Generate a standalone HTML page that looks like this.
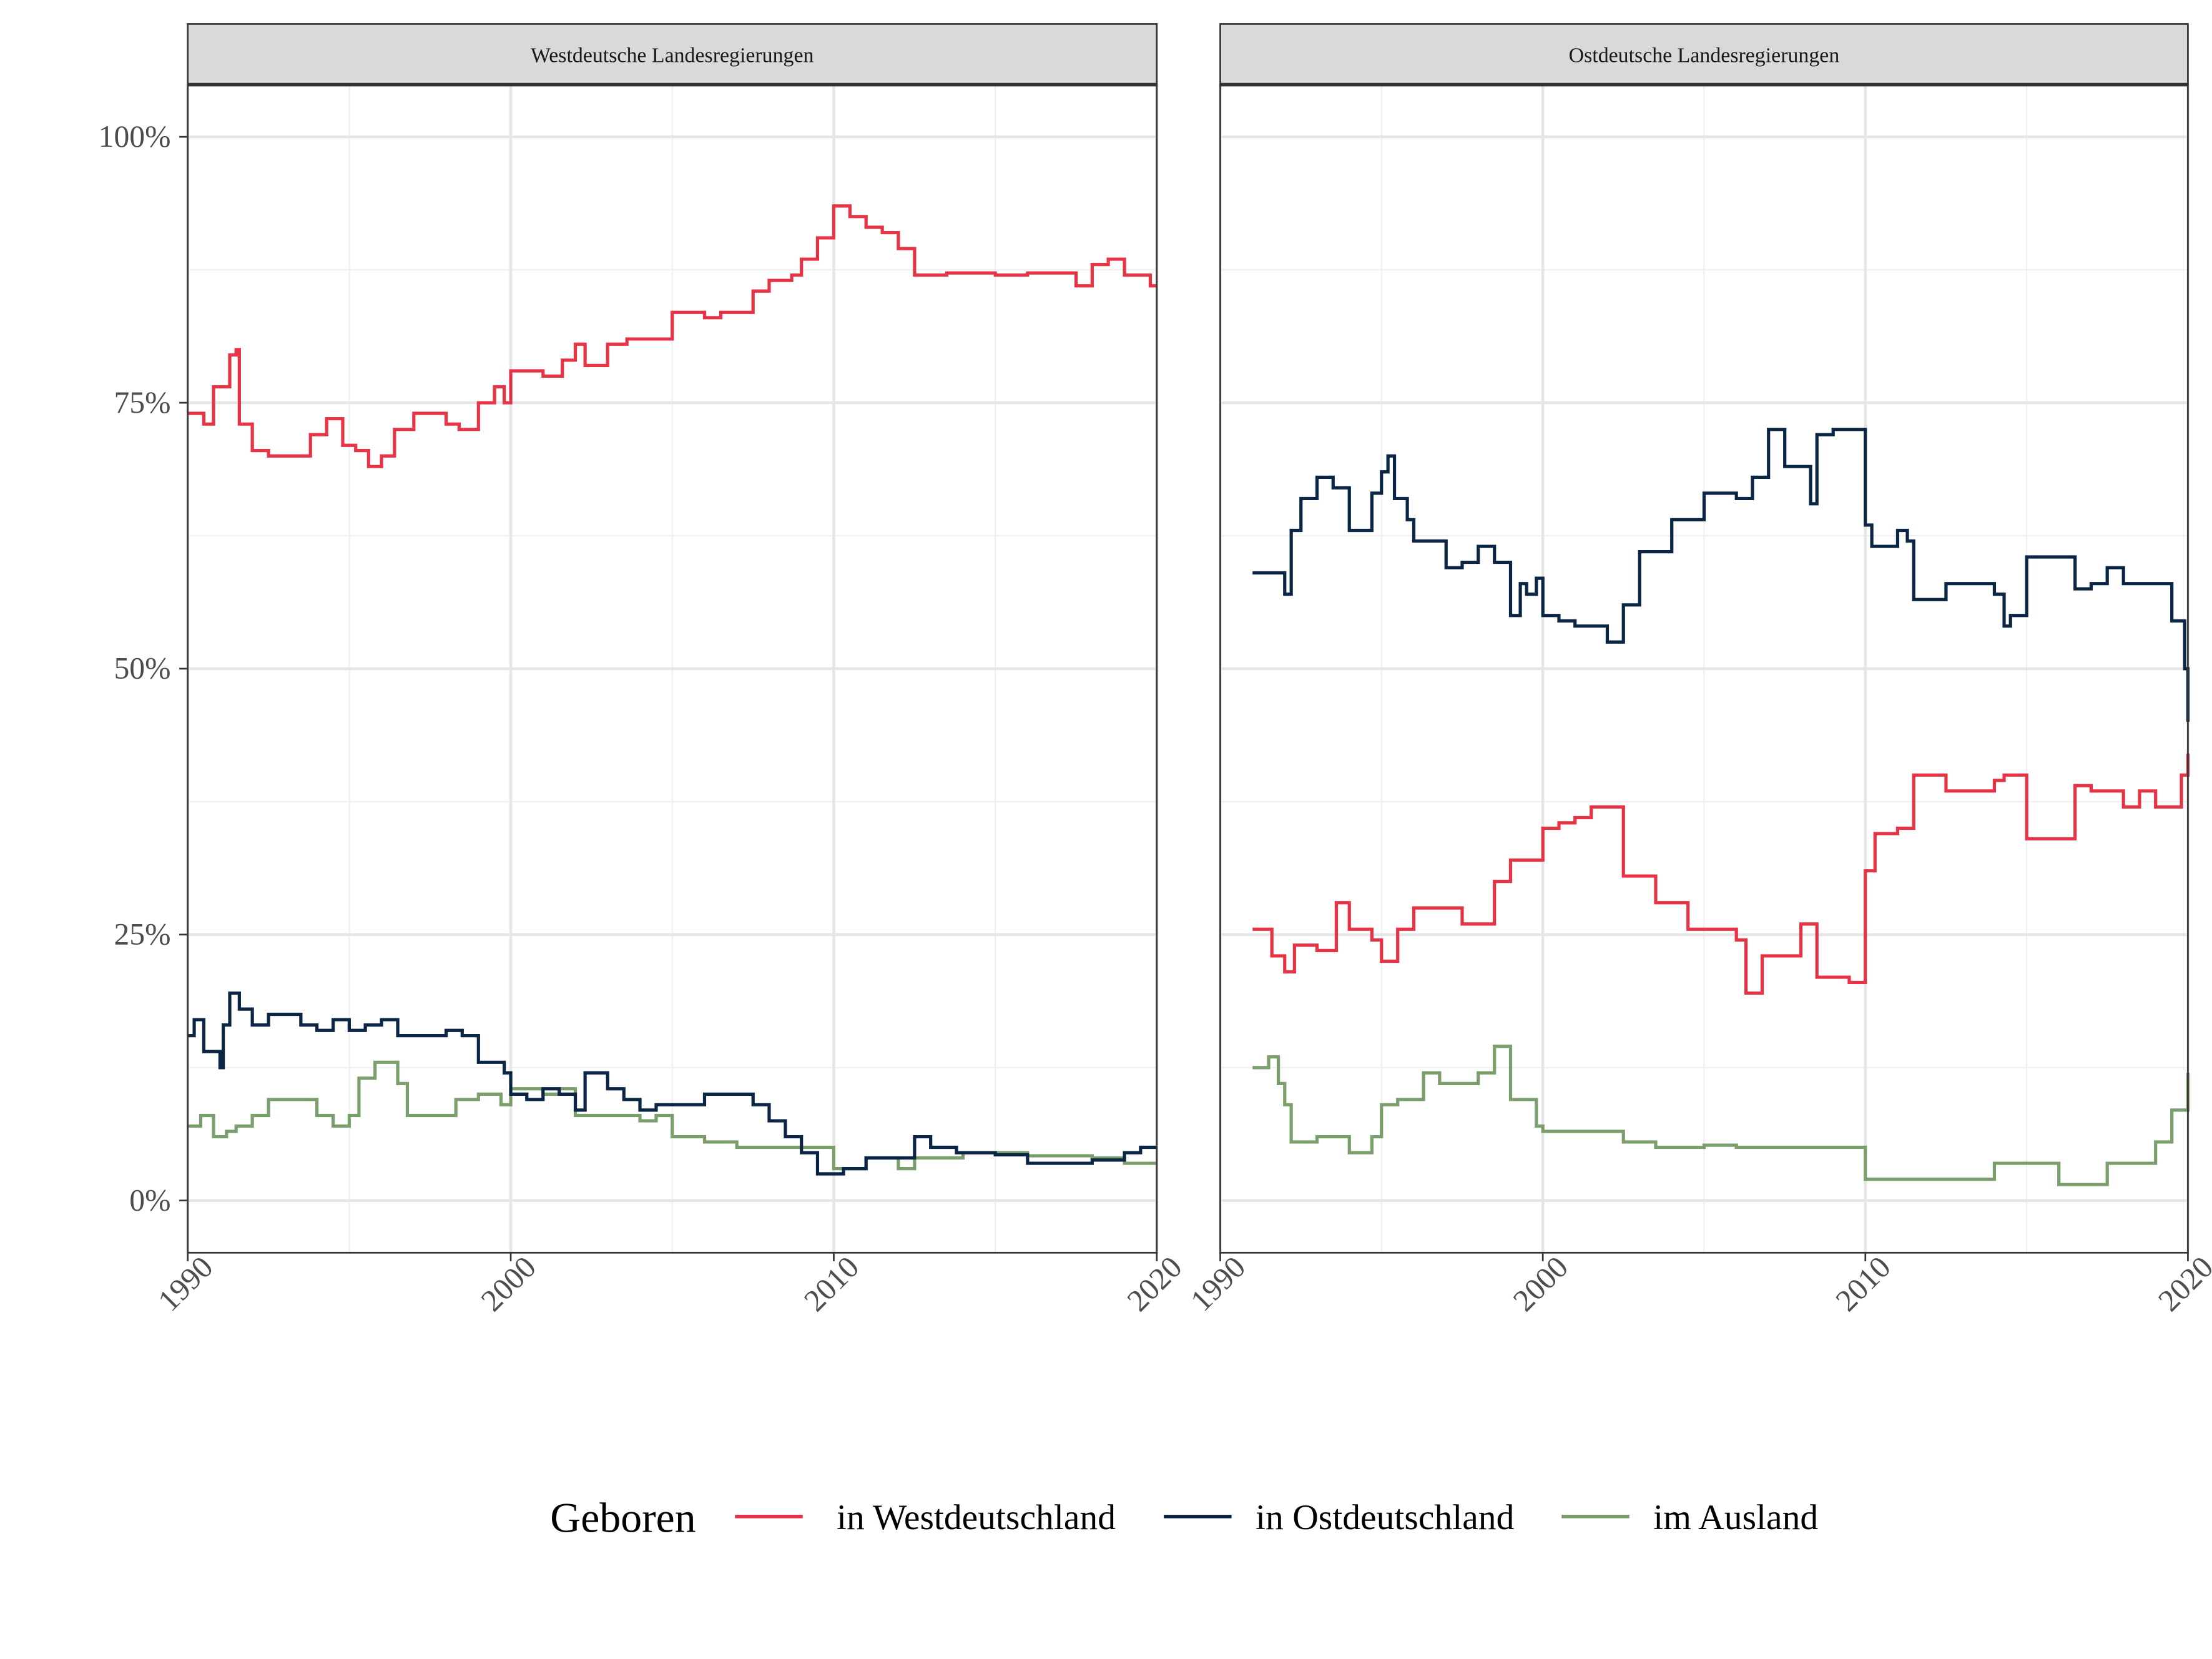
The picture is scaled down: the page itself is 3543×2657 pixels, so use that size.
<!DOCTYPE html>
<html><head><meta charset="utf-8"><style>html,body{margin:0;padding:0;background:#fff}svg{display:block}text{font-family:"Liberation Serif",serif}</style></head>
<body>
<svg id="chart" width="3543" height="2657" viewBox="0 0 1568 1176" xmlns="http://www.w3.org/2000/svg">
<g id="root"></g>
</svg>
<script>
const years_WW=[1990,1990.5,1990.8,1991.3,1991.5,1991.6,1992,1992.5,1993.5,1993.8,1994.3,1994.8,1995.2,1995.6,1996,1996.4,1997,1998,1998.4,1999,1999.5,1999.8,2000,2001,2001.6,2002,2002.3,2003,2003.6,2004.5,2005,2006,2006.5,2007.5,2008,2008.7,2009,2009.5,2010,2010.5,2011,2011.5,2012,2012.5,2013,2013.5,2015,2016,2017,2017.5,2018,2018.5,2019,2019.8,2020];
const vals_WW=[74,73,76.5,79.5,80,73,70.5,70,70,72,73.5,71,70.5,69,70,72.5,74,73,72.5,75,76.5,75,78,77.5,79,80.5,78.5,80.5,81,81,83.5,83,83.5,85.5,86.5,87,88.5,90.5,93.5,92.5,91.5,91,89.5,87,87,87.2,87,87.2,87.2,86,88,88.5,87,86,86];
const years_WE=[1990,1990.2,1990.5,1991,1991.1,1991.3,1991.6,1992,1992.5,1993.5,1994,1994.5,1995,1995.5,1996,1996.5,1997.5,1998,1998.5,1999,1999.8,2000,2000.5,2001,2001.5,2002,2002.3,2003,2003.5,2004,2004.5,2005.5,2006,2007,2007.5,2008,2008.5,2009,2009.5,2010.3,2011,2012,2012.5,2013,2013.8,2015,2016,2018,2019,2019.5,2020];
const vals_WE=[15.5,17,14,12.5,16.5,19.5,18,16.5,17.5,16.5,16,17,16,16.5,17,15.5,15.5,16,15.5,13,12,10,9.5,10.5,10,8.5,12,10.5,9.5,8.5,9,9,10,10,9,7.5,6,4.5,2.5,3,4,4,6,5,4.5,4.3,3.5,3.8,4.5,5,5];
const years_WA=[1990,1990.4,1990.8,1991.2,1991.5,1992,1992.5,1993,1994,1994.5,1995,1995.3,1995.8,1996.5,1996.8,1998,1998.3,1999,1999.7,2000,2001,2001.5,2002,2003,2004,2004.5,2005,2006,2007,2009,2010,2011,2012,2012.5,2014,2016,2018,2019,2020];
const vals_WA=[7,8,6,6.5,7,8,9.5,9.5,8,7,8,11.5,13,11,8,8,9.5,10,9,10.5,10,10.5,8,8,7.5,8,6,5.5,5,5,3,4,3,4,4.5,4.2,4,3.5,3.5];
const years_OE=[1991,1992,1992.2,1992.5,1993,1993.5,1994,1994.7,1995,1995.2,1995.4,1995.8,1996,1997,1997.5,1998,1998.5,1999,1999.3,1999.5,1999.8,2000,2000.5,2001,2002,2002.5,2003,2004,2005,2006,2006.5,2007,2007.5,2008,2008.3,2008.5,2009,2009.5,2010,2010.2,2011,2011.3,2011.5,2012.5,2014,2014.3,2014.5,2015,2016.5,2017,2017.5,2018,2019.5,2019.9,2020];
const vals_OE=[59,57,63,66,68,67,63,66.5,68.5,70,66,64,62,59.5,60,61.5,60,55,58,57,58.5,55,54.5,54,52.5,56,61,64,66.5,66,68,72.5,69,69,65.5,72,72.5,72.5,63.5,61.5,63,62,56.5,58,57,54,55,60.5,57.5,58,59.5,58,54.5,50,45];
const years_OW=[1991,1991.6,1992,1992.3,1993,1993.6,1994,1994.7,1995,1995.5,1996,1997,1997.5,1998.5,1999,2000,2000.5,2001,2001.5,2002,2002.5,2003.5,2004.5,2005.5,2006,2006.3,2006.8,2007.5,2008,2008.5,2009,2009.5,2010,2010.3,2011,2011.5,2012.5,2014,2014.3,2015,2016.5,2017,2018,2018.5,2019,2019.8,2020];
const vals_OW=[25.5,23,21.5,24,23.5,28,25.5,24.5,22.5,25.5,27.5,27.5,26,30,32,35,35.5,36,37,37,30.5,28,25.5,25.5,24.5,19.5,23,23,26,21,21,20.5,31,34.5,35,40,38.5,39.5,40,34,39,38.5,37,38.5,37,40,42];
const years_OA=[1991,1991.5,1991.8,1992,1992.2,1993,1994,1994.7,1995,1995.5,1996.3,1996.8,1998,1998.5,1999,1999.8,2000,2002.5,2003.5,2005,2006,2009,2010,2014,2016,2017.5,2019,2019.5,2020];
const vals_OA=[12.5,13.5,11,9,5.5,6,4.5,6,9,9.5,12,11,12,14.5,9.5,7,6.5,5.5,5,5.2,5,5,2,3.5,1.5,3.5,5.5,8.5,12];
const yTicks=[0,25,50,75,100];
const yTickLabels=["0%","25%","50%","75%","100%"];
const xTicks=[1990,2000,2010,2020];
const panelTitles=["Westdeutsche Landesregierungen","Ostdeutsche Landesregierungen"];
const NS="http://www.w3.org/2000/svg";
const root=document.getElementById('root');
function mk(tag,attrs,parent){const e=document.createElementNS(NS,tag);for(const k in attrs)e.setAttribute(k,attrs[k]);(parent||root).appendChild(e);return e;}
const yS=v=>851-v*7.54;
const COL={w:"#e63345",e:"#0b2545",a:"#7a9e6c"};
const panels=[{x0:133,x1:820},{x0:865,x1:1551}];
panels.forEach((p,pi)=>{
  const xS=y=>p.x0+(y-1990)/30*(p.x1-p.x0);
  const g=mk('g',{});
  
  
  mk('rect',{x:p.x0,y:60,width:p.x1-p.x0,height:828,fill:'#fff'},g);
  [12.5,37.5,62.5,87.5].forEach(v=>mk('line',{x1:p.x0,x2:p.x1,y1:yS(v),y2:yS(v),stroke:'#f0f0f0','stroke-width':1},g));
  [1995,2005,2015].forEach(v=>mk('line',{x1:xS(v),x2:xS(v),y1:60,y2:888,stroke:'#f0f0f0','stroke-width':1},g));
  yTicks.forEach(v=>mk('line',{x1:p.x0,x2:p.x1,y1:yS(v),y2:yS(v),stroke:'#e6e6e6','stroke-width':2},g));
  xTicks.forEach(v=>mk('line',{x1:xS(v),x2:xS(v),y1:60,y2:888,stroke:'#e6e6e6','stroke-width':2},g));
  const series=pi==0?[[years_WA,vals_WA,'a'],[years_WE,vals_WE,'e'],[years_WW,vals_WW,'w']]:[[years_OA,vals_OA,'a'],[years_OW,vals_OW,'w'],[years_OE,vals_OE,'e']];
  series.forEach(([ys,vs,c])=>{
    let d='';
    for(let i=0;i<ys.length;i++){
      const X=xS(ys[i]).toFixed(1),Y=yS(vs[i]).toFixed(1);
      if(i==0)d+='M'+X+' '+Y;else d+=' H'+X+' V'+Y;
    }
    const path=mk('path',{d:d,fill:'none',stroke:COL[c],'stroke-width':2.3},g);
    
    
  });
  mk('rect',{x:p.x0,y:60,width:p.x1-p.x0,height:828,fill:'none',stroke:'#333','stroke-width':1.2},g);
  mk('rect',{x:p.x0,y:17,width:p.x1-p.x0,height:43,fill:'#d9d9d9',stroke:'#333','stroke-width':1.2},g);
  mk('line',{x1:p.x0,x2:p.x1,y1:60,y2:60,stroke:'#333','stroke-width':2.5},g);
  const st=mk('text',{x:(p.x0+p.x1)/2,y:44,'text-anchor':'middle','font-size':15,fill:'#1a1a1a'},g);
  st.textContent=panelTitles[pi];
  
  
  xTicks.forEach(v=>{
    mk('line',{x1:xS(v),x2:xS(v),y1:888,y2:894,stroke:'#333','stroke-width':1.2},g);
    const t=mk('text',{x:xS(v),y:906,'text-anchor':'end','font-size':22,fill:'#4d4d4d',transform:`rotate(-45 ${xS(v)} 906)`},g);
    t.setAttribute('dx','18');t.setAttribute('dy','9');
    t.textContent=v;
    
    
  });
  if(pi==0){
    yTicks.forEach((v,i)=>{
      mk('line',{x1:127,x2:133,y1:yS(v),y2:yS(v),stroke:'#333','stroke-width':1.2},g);
      const t=mk('text',{x:121,y:yS(v)+7,'text-anchor':'end','font-size':22,fill:'#4d4d4d'},g);
      t.textContent=yTickLabels[i];
      
      
    });
  }
});
const lg=mk('g',{});


const lt=mk('text',{x:390,y:1086,'font-size':30,fill:'#000'},lg);lt.textContent='Geboren';
[['w',521,593,'in Westdeutschland'],['e',825,890,'in Ostdeutschland'],['a',1107,1172,'im Ausland']].forEach(([c,x,tx,lab])=>{
  const e=mk('g',{},lg);
  
  
  mk('line',{x1:x,x2:x+48,y1:1075,y2:1075,stroke:COL[c],'stroke-width':2.5},e);
  const t=mk('text',{x:tx,y:1084,'font-size':25.5,fill:'#000'},e);t.textContent=lab;
});
</script>
</body></html>
